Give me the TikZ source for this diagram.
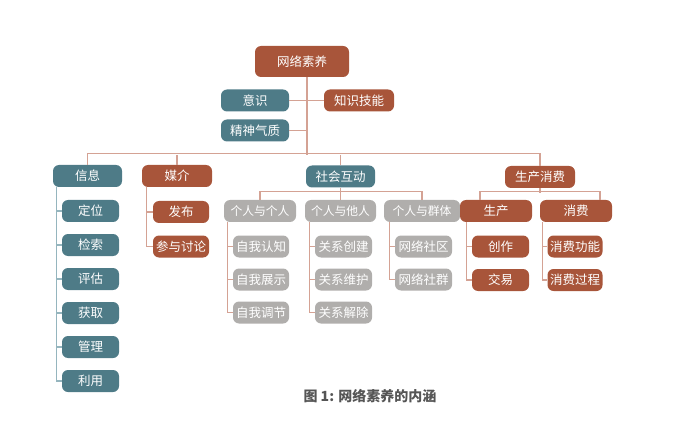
\documentclass[tikz,border=0pt]{standalone}
\usepackage{fontspec}
\setmainfont{Noto Sans CJK SC}
\usepackage{tikz}
\usetikzlibrary{calc,positioning}
\usepackage{xcolor}
\definecolor{Rust}{HTML}{A8553A}
\definecolor{Teal}{HTML}{4E7B87}
\definecolor{Stone}{HTML}{B0AEAC}
\definecolor{RustLine}{HTML}{D4A294}
\definecolor{TealLine}{HTML}{95B5BE}
\definecolor{Caption}{HTML}{555555}

\tikzset{
  box/.style={rounded corners=6pt,text=white,inner sep=0pt,minimum height=22pt,font=\fontsize{12.5}{13}\selectfont},
  rustbox/.style={box,fill=Rust},
  tealbox/.style={box,fill=Teal},
  stonebox/.style={box,fill=Stone},
  link/.style={RustLine,line width=1.1pt},
  tlink/.style={TealLine,line width=1.1pt}
}

\begin{document}
\begin{tikzpicture}[x=1pt,y=-1pt]
  \useasboundingbox (0,0) rectangle (687,430);

  % top
  \node[rustbox,minimum width=94pt,minimum height=31pt] (root) at (302,61.5) {网络素养};
  \node[tealbox,minimum width=68pt] (yishi) at (255,100.5) {意识};
  \node[rustbox,minimum width=70pt] (zsjn) at (359,100.5) {知识技能};
  \node[tealbox,minimum width=68pt] (jsqz) at (255,130.5) {精神气质};
  \coordinate (trunk) at (307,155);

  % second level
  \node[tealbox,minimum width=69pt] (xinxi) at (87.5,176) {信息};
  \node[rustbox,minimum width=70pt] (meijie) at (177,176) {媒介};
  \node[tealbox,minimum width=69pt] (shhd) at (340.5,176.5) {社会互动};
  \node[rustbox,minimum width=70pt] (scxf) at (540,177) {生产消费};

  % xinxi
  \foreach \t [count=\i] in {定位,检索,评估,获取,管理,利用}
    \node[tealbox,minimum width=57pt] (xx\i) at (90.5,{211+34*(\i-1)}) {\t};
  % meijie
  \node[rustbox,minimum width=56pt] (mj1) at (181,212) {发布};
  \node[rustbox,minimum width=56pt] (mj2) at (181,246.5) {参与讨论};

  % shehui hudong
  \node[stonebox,minimum width=72pt,font=\fontsize{11.8}{12}\selectfont] (gg) at (260,211) {个人与个人};
  \node[stonebox,minimum width=71pt,font=\fontsize{11.8}{12}\selectfont] (gt) at (340.5,211) {个人与他人};
  \node[stonebox,minimum width=76pt,font=\fontsize{11.8}{12}\selectfont] (gq) at (422,211) {个人与群体};
  \foreach \t [count=\i] in {自我认知,自我展示,自我调节}
    \node[stonebox,minimum width=56pt] (gg\i) at (261,{246.5+33*(\i-1)}) {\t};
  \foreach \t [count=\i] in {关系创建,关系维护,关系解除}
    \node[stonebox,minimum width=57pt] (gt\i) at (343.5,{246.5+33*(\i-1)}) {\t};
  \foreach \t [count=\i] in {网络社区,网络社群}
    \node[stonebox,minimum width=57pt] (gq\i) at (423.5,{246.5+33*(\i-1)}) {\t};

  % shengchan xiaofei
  \node[rustbox,minimum width=72pt] (sc) at (496,211) {生产};
  \node[rustbox,minimum width=72pt] (xf) at (576,211) {消费};
  \node[rustbox,minimum width=57pt] (sc1) at (500.5,246.5) {创作};
  \node[rustbox,minimum width=57pt] (sc2) at (500.5,280) {交易};
  \node[rustbox,minimum width=55pt] (xf1) at (575,246.5) {消费功能};
  \node[rustbox,minimum width=55pt] (xf2) at (575,280) {消费过程};

  % connectors
  \draw[link] (root.south -| trunk) -- (trunk);
  \draw[link] (yishi.east) -- (yishi.east -| trunk);
  \draw[link] (zsjn.west) -- (zsjn.west -| trunk);
  \draw[link] (jsqz.east) -- (jsqz.east -| trunk);
  \draw[link] (xinxi.north) -- ++(0,-11) -| (scxf.north);
  \draw[link] (meijie.north |- trunk) -- (meijie.north);
  \draw[link] (shhd.north |- trunk) -- (shhd.north);

  \draw[tlink] ([xshift=4pt]xinxi.south west) |- (xx6.west);
  \foreach \i in {1,...,5}
    \draw[tlink] ([xshift=4pt]xinxi.south west |- xx\i.west) -- (xx\i.west);
  \draw[link] ([xshift=5pt]meijie.south west) |- (mj2.west);
  \draw[link] ([xshift=5pt]meijie.south west |- mj1.west) -- (mj1.west);

  \draw[link] (shhd.south) -- ++(0,5);
  \draw[link] (gg.north) -- ++(0,-8) -| (gq.north);
  \draw[link] (gt.north) -- ++(0,-8);
  \draw[link] ([xshift=4pt]gg.south west) |- (gg3.west);
  \draw[link] ([xshift=4pt]gg.south west |- gg1.west) -- (gg1.west);
  \draw[link] ([xshift=4pt]gg.south west |- gg2.west) -- (gg2.west);
  \draw[link] ([xshift=5pt]gt.south west) |- (gt3.west);
  \draw[link] ([xshift=5pt]gt.south west |- gt1.west) -- (gt1.west);
  \draw[link] ([xshift=5pt]gt.south west |- gt2.west) -- (gt2.west);
  \draw[link] ([xshift=6pt]gq.south west) |- (gq2.west);
  \draw[link] ([xshift=6pt]gq.south west |- gq1.west) -- (gq1.west);

  \draw[link] (scxf.south) -- ++(0,5);
  \draw[link] ([xshift=-16pt]sc.north) -- ++(0,-8) -| ([xshift=24pt]xf.north);
  \draw[link] ([xshift=7pt]sc.south west) |- (sc2.west);
  \draw[link] ([xshift=7pt]sc.south west |- sc1.west) -- (sc1.west);
  \draw[link] ([xshift=3pt]xf.south west) |- (xf2.west);
  \draw[link] ([xshift=3pt]xf.south west |- xf1.west) -- (xf1.west);

  % caption
  \node[text=Caption,font=\fontsize{14}{15}\selectfont\bfseries] (cap) at (370,396) {图 1: 网络素养的内涵};
\end{tikzpicture}
\end{document}
